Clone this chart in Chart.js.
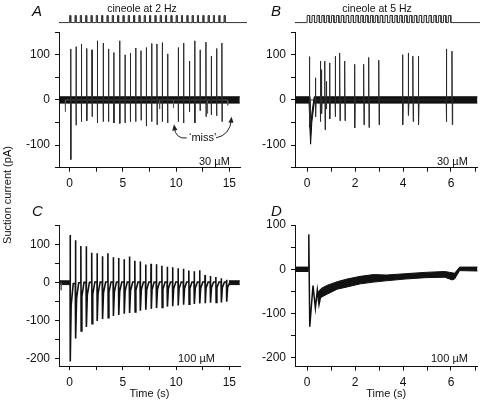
<!DOCTYPE html>
<html><head><meta charset="utf-8">
<script src="https://cdn.jsdelivr.net/npm/chart.js@4.4.1/dist/chart.umd.min.js"></script>
<style>
html,body{margin:0;padding:0;background:#fff;}
#wrap{position:relative;width:480px;height:404px;overflow:hidden;font-family:"Liberation Sans",Arial,sans-serif;color:#111;}
canvas{position:absolute;}
.t{position:absolute;font-size:11px;white-space:nowrap;line-height:1;}
.s{font-size:10.5px;}
.c{transform:translateX(-50%);}
.L{position:absolute;font-size:15px;font-style:italic;line-height:1;}
.yl{position:absolute;font-size:11px;white-space:nowrap;line-height:12px;height:12px;width:120px;text-align:center;left:-53px;top:189px;transform:rotate(-90deg);transform-origin:60px 6px;}
</style></head><body><div id="wrap">
<canvas id="stA" width="188" height="12" style="left:59px;top:12px"></canvas>
<canvas id="stB" width="185" height="12" style="left:295px;top:12px"></canvas>
<canvas id="cA" width="245" height="178" style="left:0px;top:20px"></canvas>
<canvas id="cB" width="240" height="178" style="left:240px;top:20px"></canvas>
<canvas id="cC" width="245" height="197" style="left:0px;top:205px"></canvas>
<canvas id="cD" width="240" height="197" style="left:240px;top:205px"></canvas>
<div class="L" style="left:32px;top:2.5px">A</div>
<div class="L" style="left:271px;top:2.5px">B</div>
<div class="L" style="left:32px;top:202.5px">C</div>
<div class="L" style="left:271px;top:202.5px">D</div>
<div class="t s c" style="left:142px;top:2.5px">cineole at 2 Hz</div>
<div class="t s c" style="left:377px;top:2.5px">cineole at 5 Hz</div>
<div class="t" style="left:199px;top:155.5px">30 µM</div>
<div class="t" style="left:437px;top:155.5px">30 µM</div>
<div class="t" style="left:178px;top:352.5px">100 µM</div>
<div class="t" style="left:431px;top:352.5px">100 µM</div>
<div class="t" style="left:189px;top:132px">‘miss’</div>
<div class="yl">Suction current (pA)</div>
</div>
<script>
const FONT='"Liberation Sans", Arial, sans-serif';
// ---- tick values / labels
const xTicksAC=[0,2.5,5,7.5,10,12.5,15];
const xLabelsAC=['0','','5','','10','','15'];
const xTicksBD=[0,1,2,3,4,5,6,7];
const xLabelsBD=['0','','2','','4','','6',''];
const yTicksAB=[-150,-100,-50,0,50,100,150];
const yLabelsAB=['','-100','','0','','100',''];
const yTicksC=[-200,-150,-100,-50,0,50,100,150];
const yLabelsC=['-200','','-100','','0','','100',''];
const yTicksD=[-200,-150,-100,-50,0,50,100];
const yLabelsD=['-200','','-100','','0','','100'];

// ---- stimulus protocols (s)
const stimA=[0,0.5,1,1.5,2,2.5,3,3.5,4,4.5,5,5.5,6,6.5,7,7.5,8,8.5,9,9.5,10,10.5,11,11.5,12,12.5,13,13.5,14,14.5];
const stimB=[0,0.2,0.4,0.6,0.8,1,1.2,1.4,1.6,1.8,2,2.2,2.4,2.6,2.8,3,3.2,3.4,3.6,3.8,4,4.2,4.4,4.6,4.8,5,5.2,5.4,5.6,5.8];
const stimWidth=0.1;

// ---- panel A (30 µM, 2 Hz): spikes
const aSpikeT=[0.1,0.6,1.1,1.6,2.1,2.6,3.15,3.65,4.15,4.7,5.2,5.7,6.2,6.7,7.2,7.7,8.2,8.7,9.2,10.2,10.7,11.25,11.75,12.25,12.8,13.3,13.8,14.3];
const aSpikePeak=[113,118,124,114,111,131,126,113,105,131,100,104,115,109,116,125,124,127,102,116,126,86,131,111,128,97,114,126];
const aSpikeTrough=[-132,-56,-48,-46,-37,-51,-48,-48,-51,-52,-51,-48,-48,-45,-58,-48,-55,-48,-51,-48,-51,-26,-51,-24,-37,-33,-35,-48];
const aBlipT=[-0.4,8.45,9.75,12.95,14.85];
const aBlipV=[-26,-20,-18,-30,-12];
const aBandT=[-0.98,15.98];
const aBandHi=[7,7];
const aBandLo=[-7,-7];
// 'miss' arrows: start, control, tip
const missArrowT=[[11.0,10.0,9.8],[13.75,15.05,15.2]];
const missArrowV=[[-84,-88,-54],[-84,-78,-37]];

// ---- panel B (30 µM, 5 Hz)
const bSpikeT=[0.10,0.35,0.55,0.60,0.74,0.80,0.94,1.17,1.36,1.57,1.98,2.36,2.57,2.99,3.98,4.22,4.41,4.64,5.80,6.04];
const bSpikePeak=[96,49,86,67,86,41,82,97,104,86,79,79,94,88,100,104,97,97,113,108];
const bSpikeTrough=[-55,-37,-48,-30,-66,-20,-42,-37,-46,-46,-62,-55,-61,-55,-55,-34,-48,-55,-48,-55];
const bBandT=[-0.48,0.09,0.12,0.15,0.2,0.3,7.2];
const bBandHi=[7,7,-40,-72,-30,7,7];
const bBandLo=[-7,-7,-60,-98,-50,-7,-7];

// ---- panel C (100 µM, 2 Hz)
const cT=[0.04,0.55,1.05,1.56,2.07,2.57,3.08,3.59,4.10,4.60,5.11,5.62,6.12,6.63,7.14,7.64,8.15,8.66,9.17,9.67,10.18,10.69,11.19,11.70,12.21,12.71,13.22,13.73,14.24,14.74];
const cPeak=[126,112,97,96,79,78,70,78,67,65,62,69,58,56,48,50,49,45,42,41,38,37,32,30,33,20,18,15,12,8];
const cTrough=[-208,-147,-127,-117,-108,-101,-96,-92,-88,-85,-82,-80,-77,-74,-71,-69,-67,-65,-63,-62,-60,-58,-57,-56,-55,-54,-53,-52,-52,-50];
const cMid=[-60,-42,-36,-32,-30,-28,-26,-25,-24,-23,-22,-21,-20,-19,-18,-18,-17,-17,-16,-16,-15,-15,-15,-14,-14,-14,-13,-13,-13,-12];
const cRec=[-2,0,1,1,2,2,2,2,2,2,2,2,2,2,2,2,2,2,2,2,2,2,2,2,2,2,2,2,2,0];
const cPreT=[-0.98,0.03], cPreHi=[5,5], cPreLo=[-5,-5];
const cPostT=[14.95,15.98], cPostHi=[5,5], cPostLo=[-5,-5];
const cBlipT=[-0.8], cBlipV=[-20];

// ---- panel D (100 µM, 5 Hz)
const dTraceT=[-0.48,0.07,0.075,0.115,0.25,0.35,0.43,0.5,0.6];
const dTraceV=[0,0,79,-130,-37,-88,-47,-80,-52];
const dBaseT=[-0.48,0.07], dBaseHi=[5,5], dBaseLo=[-5,-5];
const dBandT=[0.45,0.6,0.85,1.26,1.67,2.22,2.77,3.3,4.1,4.92,5.74,6.05,6.15,6.36,7.2];
const dBandHi=[-52,-43,-36,-28,-22,-16,-12,-13,-10,-7,-5,-8,-9,5,5];
const dBandLo=[-72,-63,-56,-45,-40,-33,-29,-26,-22,-19,-18,-24,-22,-3,-4];

// ---------------- helpers
const INK='#111';
function xy(ts,vs){return ts.map((t,i)=>({x:t,y:vs[i]}));}
function lineDs(pts,o){return Object.assign({data:pts,borderColor:'#2a2a2a',borderWidth:1,pointRadius:0,fill:false,tension:0},o||{});}
function band(ts,hi,lo){return [lineDs(xy(ts,hi),{borderColor:INK,backgroundColor:INK,fill:'+1'}),lineDs(xy(ts,lo),{borderColor:INK})];}
function spikes(ts,pk,tr){const p=[];ts.forEach((t,i)=>{p.push({x:t-0.001,y:0},{x:t,y:pk[i]},{x:t+0.015,y:tr[i]},{x:t+0.03,y:0});});return p;}
function blips(ts,vs){const p=[];ts.forEach((t,i)=>{p.push({x:t-0.01,y:0},{x:t,y:vs[i]},{x:t+0.01,y:0});});return p;}
function axisX(min,max,ticks,labels,title){
  return {type:'linear',position:'bottom',min,max,
    afterBuildTicks:s=>{s.ticks=ticks.map(v=>({value:v}));},
    ticks:{autoSkip:false,maxRotation:0,padding:5,color:INK,font:{family:FONT,size:12},callback:v=>labels[ticks.indexOf(v)]},
    grid:{drawOnChartArea:false,drawTicks:true,tickLength:4,color:INK},
    border:{display:true,color:INK,width:1},
    title:title?{display:true,text:title,color:INK,font:{family:FONT,size:11},padding:{top:0,bottom:1}}:{display:false}};
}
function axisY(min,max,ticks,labels){
  return {type:'linear',position:'left',min,max,
    afterBuildTicks:s=>{s.ticks=ticks.map(v=>({value:v}));},
    ticks:{autoSkip:false,padding:5,color:INK,font:{family:FONT,size:12},callback:v=>labels[ticks.indexOf(v)]},
    grid:{drawOnChartArea:false,drawTicks:true,tickLength:4,color:INK},
    border:{display:true,color:INK,width:1}};
}
function panel(id,rect,area,xs,ys,datasets,plugins){
  xs.afterFit=s=>{s.height=rect.y+rect.h-area.b;};
  ys.afterFit=s=>{s.width=area.l-rect.x;};
  return new Chart(document.getElementById(id),{type:'line',data:{datasets},
    options:{responsive:false,animation:false,devicePixelRatio:1,events:[],
      layout:{padding:{left:0,top:area.t-rect.y,right:rect.x+rect.w-area.r,bottom:0}},
      scales:{x:xs,y:ys},plugins:{legend:{display:false},tooltip:{enabled:false}}},
    plugins:plugins||[]});
}
function stimPts(ts,w,xmin,xmax){const p=[{x:xmin,y:0}];ts.forEach(t=>{p.push({x:t,y:0},{x:t,y:1},{x:t+w,y:1},{x:t+w,y:0});});p.push({x:xmax,y:0});return p;}
function stimChart(id,ts,xmin,xmax){
  return new Chart(document.getElementById(id),{type:'line',
    data:{datasets:[lineDs(stimPts(ts,stimWidth,xmin,xmax),{borderColor:'#333',borderWidth:1})]},
    options:{responsive:false,animation:false,devicePixelRatio:1,events:[],layout:{padding:0},
      scales:{x:{type:'linear',display:false,min:xmin,max:xmax},y:{display:false,min:-0.2,max:1.5}},
      plugins:{legend:{display:false},tooltip:{enabled:false}}}});
}
Chart.defaults.font.family=FONT;

// stimulus traces
stimChart('stA',stimA,-1,-1+188/(181/17));
stimChart('stB',stimB,-0.5,7.1);

// miss arrows plugin
const missPlugin={id:'miss',afterDatasetsDraw(ch){
  const c=ch.ctx,X=ch.scales.x,Y=ch.scales.y;
  c.save();c.strokeStyle='#222';c.fillStyle='#222';c.lineWidth=1;
  missArrowT.forEach((ts,k)=>{
    const p=ts.map((t,i)=>[X.getPixelForValue(t),Y.getPixelForValue(missArrowV[k][i])]);
    c.beginPath();c.moveTo(p[0][0],p[0][1]);c.quadraticCurveTo(p[1][0],p[1][1],p[2][0],p[2][1]+3);c.stroke();
    const ang=Math.atan2(p[2][1]-p[1][1],p[2][0]-p[1][0]);
    const L=6,W=2.6;
    c.beginPath();c.moveTo(p[2][0],p[2][1]);
    c.lineTo(p[2][0]-L*Math.cos(ang)+W*Math.sin(ang),p[2][1]-L*Math.sin(ang)-W*Math.cos(ang));
    c.lineTo(p[2][0]-L*Math.cos(ang)-W*Math.sin(ang),p[2][1]-L*Math.sin(ang)+W*Math.cos(ang));
    c.closePath();c.fill();
  });
  c.restore();}};

// Panel A
panel('cA',{x:0,y:20,w:245,h:178},{l:59,t:27.7,r:240,b:167.7},
  axisX(-1,16,xTicksAC,xLabelsAC,null),axisY(-150,150,yTicksAB,yLabelsAB),
  [lineDs(spikes(aSpikeT,aSpikePeak,aSpikeTrough)),lineDs(blips(aBlipT,aBlipV),{borderColor:'#555'}),...band(aBandT,aBandHi,aBandLo)],[missPlugin]);
// Panel B
panel('cB',{x:240,y:20,w:240,h:178},{l:295,t:27.7,r:480,b:167.7},
  axisX(-0.5,7.1,xTicksBD,xLabelsBD,null),axisY(-150,150,yTicksAB,yLabelsAB),
  [lineDs(spikes(bSpikeT,bSpikePeak,bSpikeTrough)),...band(bBandT,bBandHi,bBandLo)]);
// Panel C
const cPts=[];
cT.forEach((t,i)=>{cPts.push({x:t,y:i?cRec[i-1]:0},{x:t+0.005,y:cPeak[i]},{x:t+0.03,y:cTrough[i]},{x:t+0.1,y:cMid[i]},{x:t+0.3,y:cRec[i]},{x:t+0.49,y:cRec[i]});});
cPts.push({x:15.0,y:0});
panel('cC',{x:0,y:205,w:245,h:197},{l:59,t:225.85,r:240,b:366.1},
  axisX(-1,16,xTicksAC,xLabelsAC,'Time (s)'),axisY(-220,150,yTicksC,yLabelsC),
  [lineDs(cPts,{borderColor:INK,borderWidth:1.6}),lineDs(blips(cBlipT,cBlipV),{borderColor:'#555'}),...band(cPreT,cPreHi,cPreLo),...band(cPostT,cPostHi,cPostLo)]);
// Panel D
panel('cD',{x:240,y:205,w:240,h:197},{l:295,t:225.1,r:480,b:366.5},
  axisX(-0.5,7.1,xTicksBD,xLabelsBD,'Time (s)'),axisY(-220,100,yTicksD,yLabelsD),
  [lineDs(xy(dTraceT,dTraceV),{borderColor:INK,borderWidth:1.5}),...band(dBaseT,dBaseHi,dBaseLo),...band(dBandT,dBandHi,dBandLo)]);
</script></body></html>
